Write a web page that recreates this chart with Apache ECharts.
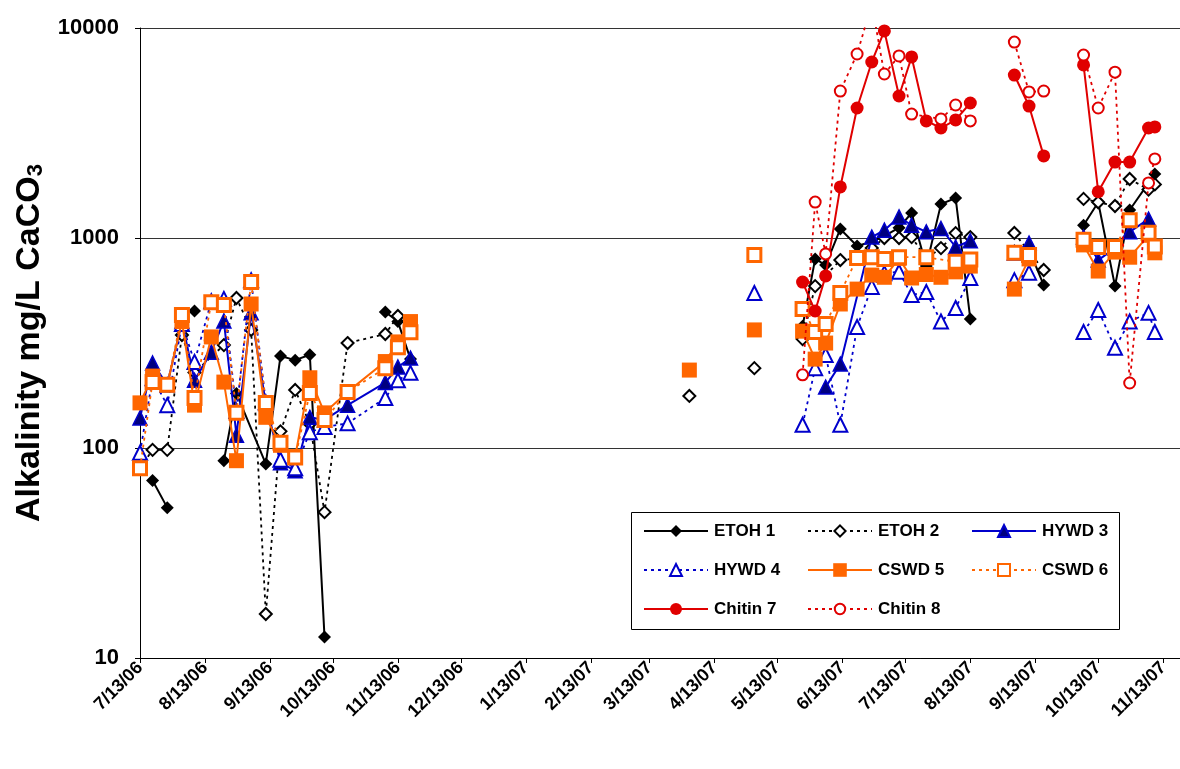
<!DOCTYPE html>
<html><head><meta charset="utf-8">
<script src="https://cdn.jsdelivr.net/npm/echarts@6/dist/echarts.min.js"></script>
<style>html,body{margin:0;padding:0;background:#fff}#c{width:1180px;height:769px}</style>
</head><body><div id="c"></div>
<script>
// ---------- DATA ----------
const xTickLabels = ['7/13/06','8/13/06','9/13/06','10/13/06','11/13/06','12/13/06','1/13/07','2/13/07','3/13/07','4/13/07','5/13/07','6/13/07','7/13/07','8/13/07','9/13/07','10/13/07','11/13/07'];
const yTickValues = [10, 100, 1000, 10000];
const xRange = ['7/13/06', '11/21/07'];
const seriesNames = ['ETOH 1','ETOH 2','HYWD 3','HYWD 4','CSWD 5','CSWD 6','Chitin 7','Chitin 8'];

const etoh1 = [['7/19/06',70],['7/26/06',52],['8/2/06',null],['8/8/06',449],['8/16/06',null],['8/22/06',87],['8/28/06',182],['9/11/06',84],['9/18/06',274],['9/25/06',262],['10/2/06',278],['10/9/06',12.6],['10/20/06',null],['11/7/06',444],['11/13/06',400],['11/19/06',265],
  ['1/1/07',null],['5/25/07',380],['5/31/07',795],['6/5/07',743],['6/12/07',1104],['6/20/07',916],['6/27/07',960],['7/3/07',1020],['7/10/07',1120],['7/16/07',1315],['7/23/07',736],['7/30/07',1450],['8/6/07',1550],['8/13/07',411],
  ['8/25/07',null],['9/3/07',870],['9/10/07',880],['9/17/07',597],['9/25/07',null],['10/6/07',1150],['10/13/07',1480],['10/21/07',590],['10/28/07',1360],['11/9/07',2020]];
const etoh2 = [['7/13/06',80],['7/19/06',98],['7/26/06',98],['8/2/06',345],['8/8/06',229],['8/22/06',309],['8/28/06',518],['9/4/06',365],['9/11/06',16.2],['9/18/06',120],['9/25/06',189],['10/2/06',130],['10/9/06',49.5],['10/20/06',316],['11/7/06',349],['11/13/06',425],
  ['1/1/07',null],['4/1/07',177],['4/15/07',null],['5/2/07',240],['5/15/07',null],['5/25/07',330],['5/31/07',590],['6/12/07',785],['6/20/07',800],['6/27/07',895],['7/3/07',1000],['7/10/07',1000],['7/16/07',1010],['7/23/07',800],['7/30/07',895],['8/6/07',1055],['8/13/07',1010],
  ['8/25/07',null],['9/3/07',1057],['9/10/07',860],['9/17/07',704],['9/25/07',null],['10/6/07',1535],['10/13/07',1480],['10/21/07',1420],['10/28/07',1910],['11/6/07',1700],['11/9/07',1800]];
const hywd3 = [['7/13/06',139],['7/19/06',254],['7/26/06',200],['8/2/06',400],['8/8/06',210],['8/16/06',286],['8/22/06',403],['8/28/06',115],['9/4/06',440],['9/11/06',163],['9/18/06',85],['9/25/06',78],['10/2/06',140],['10/9/06',136],['10/20/06',160],['11/7/06',205],['11/13/06',243],['11/19/06',268],
  ['1/1/07',null],['6/5/07',195],['6/12/07',251],['6/27/07',1010],['7/3/07',1090],['7/10/07',1260],['7/16/07',1150],['7/23/07',1070],['7/30/07',1110],['8/6/07',906],['8/13/07',970],
  ['8/25/07',null],['9/3/07',849],['9/10/07',946],['9/25/07',null],['10/6/07',1010],['10/13/07',785],['10/21/07',895],['10/28/07',1070],['11/6/07',1230]];
const hywd4 = [['7/13/06',95],['7/19/06',215],['7/26/06',160],['8/2/06',390],['8/8/06',257],['8/16/06',500],['8/22/06',513],['8/28/06',150],['9/4/06',630],['9/11/06',165],['9/18/06',88],['9/25/06',80],['10/2/06',119],['10/9/06',126],['10/20/06',131],['11/7/06',173],['11/13/06',210],['11/19/06',228],
  ['1/1/07',null],['5/2/07',547],['5/15/07',null],['5/25/07',129],['5/31/07',240],['6/5/07',277],['6/12/07',129],['6/20/07',377],['6/27/07',585],['7/3/07',680],['7/10/07',690],['7/16/07',535],['7/23/07',553],['7/30/07',400],['8/6/07',464],['8/13/07',645],
  ['8/25/07',null],['9/3/07',630],['9/10/07',684],['9/25/07',null],['10/6/07',357],['10/13/07',454],['10/21/07',300],['10/28/07',400],['11/6/07',440],['11/9/07',357]];
const cswd5 = [['7/13/06',164],['7/19/06',220],['7/26/06',200],['8/2/06',400],['8/8/06',160],['8/16/06',338],['8/22/06',206],['8/28/06',87],['9/4/06',485],['9/11/06',140],['9/18/06',103],['9/25/06',91],['10/2/06',216],['10/9/06',147],['10/20/06',185],['11/7/06',258],['11/13/06',320],['11/19/06',400],
  ['1/1/07',null],['4/1/07',235],['4/15/07',null],['5/2/07',365],['5/15/07',null],['5/25/07',360],['5/31/07',265],['6/5/07',316],['6/12/07',485],['6/20/07',571],['6/27/07',666],['7/3/07',650],['7/10/07',800],['7/16/07',645],['7/23/07',670],['7/30/07',650],['8/6/07',690],['8/13/07',735],
  ['8/25/07',null],['9/3/07',571],['9/10/07',795],['9/25/07',null],['10/6/07',927],['10/13/07',696],['10/21/07',857],['10/28/07',810],['11/6/07',1030],['11/9/07',850]];
const cswd6 = [['7/13/06',80],['7/19/06',206],['7/26/06',200],['8/2/06',430],['8/8/06',173],['8/16/06',495],['8/22/06',480],['8/28/06',147],['9/4/06',617],['9/11/06',164],['9/18/06',106],['9/25/06',90],['10/2/06',183],['10/9/06',136],['10/20/06',185],['11/7/06',240],['11/13/06',302],['11/19/06',356],
  ['1/1/07',null],['5/2/07',830],['5/15/07',null],['5/25/07',459],['5/31/07',357],['6/5/07',389],['6/12/07',547],['6/20/07',803],['6/27/07',810],['7/3/07',795],['7/10/07',810],['7/23/07',810],['8/6/07',770],['8/13/07',790],
  ['8/25/07',null],['9/3/07',850],['9/10/07',830],['9/25/07',null],['10/6/07',980],['10/13/07',905],['10/21/07',905],['10/28/07',1215],['11/6/07',1060],['11/9/07',910]];
const chitin7 = [['5/25/07',617],['5/31/07',449],['6/5/07',660],['6/12/07',1750],['6/20/07',4160],['6/27/07',6890],['7/3/07',9680],['7/10/07',4745],['7/16/07',7280],['7/23/07',3610],['7/30/07',3340],['8/6/07',3650],['8/13/07',4395],
  ['8/25/07',null],['9/3/07',5970],['9/10/07',4250],['9/17/07',2460],['9/25/07',null],['10/6/07',6670],['10/13/07',1660],['10/21/07',2300],['10/28/07',2300],['11/6/07',3340],['11/9/07',3380]];
const chitin8 = [['5/25/07',223],['5/31/07',1483],['6/5/07',840],['6/12/07',5010],['6/20/07',7520],['6/27/07',13000],['7/3/07',6040],['7/10/07',7360],['7/16/07',3890],['7/30/07',3690],['8/6/07',4300],['8/13/07',3610],
  ['8/25/07',null],['9/3/07',8570],['9/10/07',4960],['9/17/07',5010],['9/25/07',null],['10/6/07',7430],['10/13/07',4160],['10/21/07',6160],['10/28/07',204],['11/6/07',1830],['11/9/07',2380]];

// ---------- HELPERS ----------
function toTime(s){ const p = s.split('/').map(Number); return Date.UTC(2000 + p[2], p[0] - 1, p[1]); }
function toData(arr){ return arr.map(function(r){ return [toTime(r[0]), r[1] == null ? '-' : r[1]]; }); }
const xTicks = xTickLabels.map(toTime);
const FONT = '"Liberation Sans", Arial, sans-serif';

const BLACK = '#000000', BLUE = '#0000CC', NAVY = '#000080', ORANGE = '#FF6600', RED = '#E00000';
const DOT = [3, 4];
const styles = [
  {line: {color: BLACK, width: 2, type: 'solid'}, symbol: 'diamond', size: 13, item: {color: BLACK}, legendH: 15},
  {line: {color: BLACK, width: 1.8, type: DOT}, symbol: 'diamond', size: 12, item: {color: '#fff', borderColor: BLACK, borderWidth: 2}, legendH: 14},
  {line: {color: BLUE, width: 2, type: 'solid'}, symbol: 'triangle', size: 14, item: {color: NAVY, borderColor: BLUE, borderWidth: 1.5}, legendH: 15},
  {line: {color: BLUE, width: 1.8, type: DOT}, symbol: 'triangle', size: 14, item: {color: '#fff', borderColor: BLUE, borderWidth: 2}, legendH: 15},
  {line: {color: ORANGE, width: 2, type: 'solid'}, symbol: 'rect', size: 15, item: {color: ORANGE}, legendH: 17},
  {line: {color: ORANGE, width: 1.8, type: DOT}, symbol: 'rect', size: 13, item: {color: '#fff', borderColor: ORANGE, borderWidth: 3}, legendH: 15},
  {line: {color: RED, width: 2, type: 'solid'}, symbol: 'circle', size: 13, item: {color: RED}, legendH: 15},
  {line: {color: RED, width: 1.8, type: DOT}, symbol: 'circle', size: 11, item: {color: '#fff', borderColor: RED, borderWidth: 2}, legendH: 13}
];
const seriesData = [etoh1, etoh2, hywd3, hywd4, cswd5, cswd6, chitin7, chitin8];

const series = seriesNames.map(function(name, i){
  const st = styles[i];
  return {
    name: name, type: 'line', data: toData(seriesData[i]),
    symbol: st.symbol, symbolSize: st.size, showSymbol: true, showAllSymbol: true,
    lineStyle: st.line, itemStyle: st.item, connectNulls: false, clip: true,
    emphasis: {disabled: true}, z: 2 + i * 0.01
  };
});

// legend layout: 3 columns x 3 rows (row centres ~531, 570, 609)
const legendCols = [643, 807, 971], legendRowCentres = [531, 570, 609];
const legends = seriesNames.map(function(name, i){
  const h = styles[i].legendH;
  return {
    data: [name], left: legendCols[i % 3], top: legendRowCentres[Math.floor(i / 3)] - 10,
    padding: 0, itemWidth: 64, itemHeight: h, itemGap: 0, selectedMode: false, z: 10,
    textStyle: {fontFamily: FONT, fontSize: 17, fontWeight: 'bold', color: '#000', lineHeight: 20, padding: [0,0,0,1]}
  };
});

const chart = echarts.init(document.getElementById('c'), null, {renderer: 'canvas'});
chart.setOption({
  animation: false,
  backgroundColor: '#fff',
  grid: {left: 140, top: 28, right: 0, bottom: 111, containLabel: false, outerBoundsMode: 'none'},
  graphic: [{type: 'rect', shape: {x: 631.5, y: 512.5, width: 488, height: 117}, style: {fill: '#fff', stroke: '#000', lineWidth: 1}, z: 5}],
  legend: legends,
  tooltip: {show: false},
  xAxis: {
    type: 'value', min: toTime(xRange[0]), max: toTime(xRange[1]),
    splitLine: {show: false},
    axisLine: {show: true, lineStyle: {color: '#000', width: 1}},
    axisTick: {show: true, customValues: xTicks, length: 5, lineStyle: {color: '#000'}},
    axisLabel: {customValues: xTicks, formatter: function(v){ const k = xTicks.indexOf(v); return k >= 0 ? xTickLabels[k] : ''; },
      rotate: 45, fontFamily: FONT, fontSize: 18, fontWeight: 'bold', color: '#000', margin: 7}
  },
  yAxis: {
    type: 'log', logBase: 10, min: yTickValues[0], max: yTickValues[yTickValues.length - 1],
    name: 'Alkalinity mg/L CaCO{sub|3}', nameLocation: 'middle', nameGap: 86,
    nameTextStyle: {fontFamily: FONT, fontSize: 34, fontWeight: 'bold', color: '#000',
      rich: {sub: {fontFamily: FONT, fontSize: 22, fontWeight: 'bold', color: '#000', verticalAlign: 'bottom', padding: [13, 0, 0, 0]}}},
    axisLine: {show: true, lineStyle: {color: '#000', width: 1}},
    axisTick: {show: true, length: 5, lineStyle: {color: '#000'}},
    minorTick: {show: false},
    splitLine: {show: true, lineStyle: {color: '#333', width: 1}},
    axisLabel: {fontFamily: FONT, fontSize: 22, fontWeight: 'bold', color: '#000', margin: 21,
      formatter: function(v){ return String(Math.round(v)); }}
  },
  series: series
});
</script></body></html>
